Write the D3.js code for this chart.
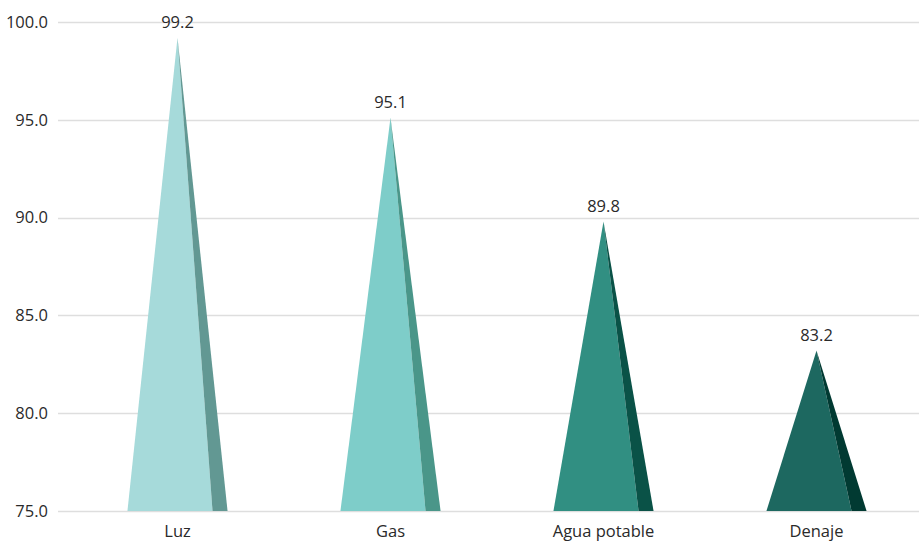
<!DOCTYPE html>
<html>
<head>
<meta charset="utf-8">
<script src="https://cdn.jsdelivr.net/npm/d3@7"></script>
<style>
  html, body { margin: 0; padding: 0; background: #ffffff; }
  svg { display: block; font-family: "Open Sans", "Noto Sans", sans-serif; }
</style>
</head>
<body>
<svg id="chart" width="919" height="541"></svg>
<script>
// Service coverage (%) by category
const categories = ["Luz", "Gas", "Agua potable", "Denaje"];
const values = [99.2, 95.1, 89.8, 83.2];
const tickValues = [75, 80, 85, 90, 95, 100];
const frontColors = ["#a6dada", "#7ecdc9", "#318f82", "#1d6860"];
const sideColors = ["#629893", "#4a9689", "#0a5247", "#013a32"];

const svg = d3.select("#chart");
const plotLeft = 58, plotRight = 919;
const fontSize = 16.5;
const textColor = "#2a2a2a";

const y = d3.scaleLinear().domain([75, 100]).range([511, 22]);
const x = d3.scaleBand()
  .domain(categories)
  .range([71, 923])
  .paddingInner(0.53)
  .paddingOuter(0.265);

// Horizontal gridlines
svg.append("g")
  .selectAll("line")
  .data(tickValues)
  .join("line")
  .attr("x1", plotLeft)
  .attr("x2", plotRight)
  .attr("y1", d => Math.round(y(d)) + 0.5)
  .attr("y2", d => Math.round(y(d)) + 0.5)
  .attr("stroke", "#dedede")
  .attr("stroke-width", 1.5);

// Y axis tick labels
svg.append("g")
  .selectAll("text")
  .data(tickValues)
  .join("text")
  .attr("x", 48)
  .attr("y", d => y(d))
  .attr("dy", "0.35em")
  .attr("text-anchor", "end")
  .attr("font-size", fontSize)
  .attr("fill", textColor)
  .text(d => d.toFixed(1));

// Pointed bars: a light front face and a darker side face
const data = categories.map((c, i) => ({ c, v: values[i], i }));
const sideShare = 0.15;

const bars = svg.append("g").selectAll("g").data(data).join("g");

bars.append("path")
  .attr("fill", d => frontColors[d.i])
  .attr("d", d => {
    const x0 = x(d.c), bw = x.bandwidth();
    const xm = x0 + bw / 2, xf = x0 + bw * (1 - sideShare);
    return `M${x0},${y(75)}L${xm},${y(d.v)}L${xf},${y(75)}Z`;
  });

bars.append("path")
  .attr("fill", d => sideColors[d.i])
  .attr("d", d => {
    const x0 = x(d.c), bw = x.bandwidth();
    const xm = x0 + bw / 2, xf = x0 + bw * (1 - sideShare), x1 = x0 + bw;
    return `M${xm},${y(d.v)}L${xf},${y(75)}L${x1},${y(75)}Z`;
  });

// Value labels above each apex
bars.append("text")
  .attr("x", d => x(d.c) + x.bandwidth() / 2)
  .attr("y", d => y(d.v) - 10)
  .attr("text-anchor", "middle")
  .attr("font-size", fontSize)
  .attr("fill", textColor)
  .text(d => d.v.toFixed(1));

// Category labels
svg.append("g")
  .selectAll("text")
  .data(categories)
  .join("text")
  .attr("x", d => x(d) + x.bandwidth() / 2)
  .attr("y", 537)
  .attr("text-anchor", "middle")
  .attr("font-size", fontSize)
  .attr("fill", textColor)
  .text(d => d);
</script>
</body>
</html>
